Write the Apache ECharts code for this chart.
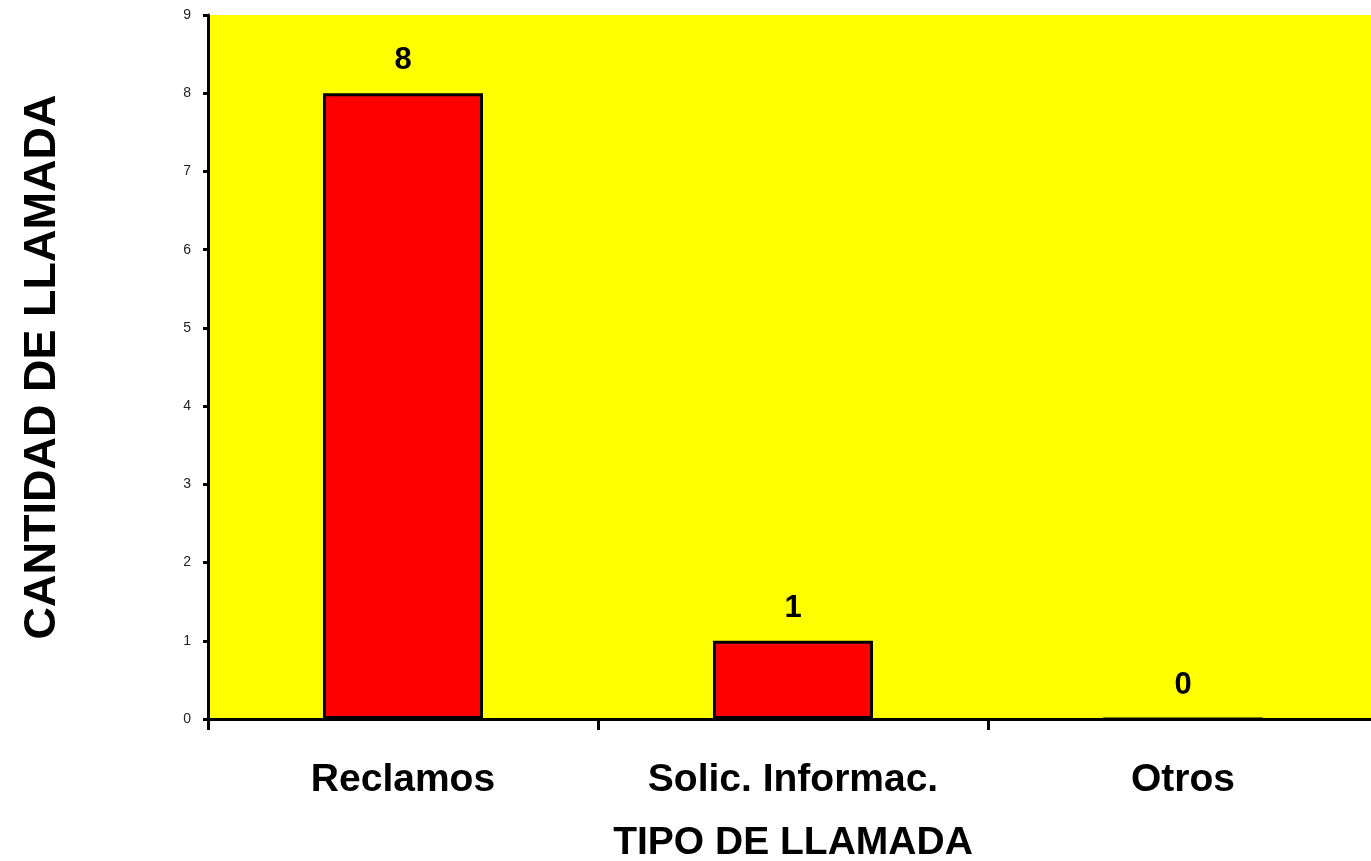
<!DOCTYPE html>
<html>
<head>
<meta charset="utf-8">
<script src="https://cdn.jsdelivr.net/npm/echarts@6/dist/echarts.min.js"></script>
<style>
  html, body { margin: 0; padding: 0; background: #fff; overflow: hidden; }
  #chart { width: 1378px; height: 861px; }
</style>
</head>
<body>
<div id="chart"></div>
<script>
var categories = ['Reclamos', 'Solic. Informac.', 'Otros'];
var llamadas = [8, 1, 0];
var yTicks = [0, 9, 1]; // min, max, interval

var chart = echarts.init(document.getElementById('chart'));

var option = {
    animation: false,
    textStyle: {fontFamily: 'Liberation Sans, Arial, sans-serif'},
    grid: {
        left: 208,
        right: 0,
        top: 15,
        bottom: 142,
        containLabel: false,
        outerBoundsMode: 'none',
        show: true,
        backgroundColor: '#FFFF00',
        borderWidth: 0
    },
    xAxis: {
        type: 'category',
        data: categories,
        name: 'TIPO DE LLAMADA',
        nameLocation: 'middle',
        nameGap: 105,
        nameTextStyle: {fontSize: 39, fontWeight: 'bold', color: '#000'},
        axisLine: {lineStyle: {color: '#000', width: 3}},
        axisTick: {show: true, length: 11, lineStyle: {color: '#000', width: 3}},
        axisLabel: {fontSize: 39, fontWeight: 'bold', color: '#000', margin: 42},
        splitLine: {show: false}
    },
    yAxis: {
        type: 'value',
        min: yTicks[0],
        max: yTicks[1],
        interval: yTicks[2],
        name: 'CANTIDAD DE LLAMADA',
        nameLocation: 'middle',
        nameRotate: 90,
        nameGap: 143,
        nameTextStyle: {fontSize: 45, fontWeight: 'bold', color: '#000'},
        axisLine: {show: true, lineStyle: {color: '#000', width: 3}},
        axisTick: {show: true, length: 5, lineStyle: {color: '#000', width: 3}},
        axisLabel: {fontSize: 14, color: '#222', margin: 17},
        splitLine: {show: false}
    },
    series: [
        {
            name: 'CANTIDAD DE LLAMADA',
            type: 'bar',
            data: llamadas,
            barWidth: 160,
            itemStyle: {color: '#FF0000', borderColor: '#000', borderWidth: 3},
            label: {
                show: true,
                position: 'top',
                distance: 17,
                fontSize: 31,
                fontWeight: 'bold',
                color: '#000'
            }
        }
    ]
};

chart.setOption(option);
</script>
</body>
</html>
